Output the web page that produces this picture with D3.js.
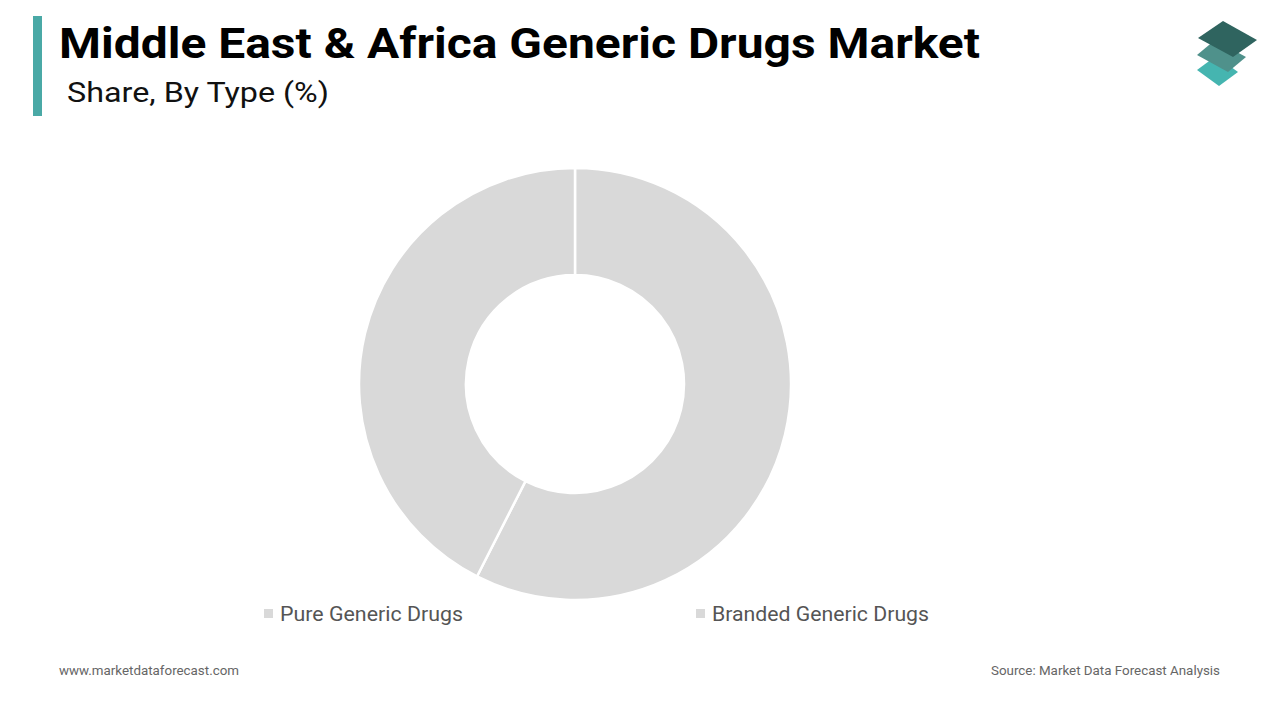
<!DOCTYPE html>
<html><head><meta charset="utf-8">
<script src="https://cdn.jsdelivr.net/npm/d3@7"></script>
<style>body{margin:0;background:#fff;} svg{display:block;font-family:Roboto, "Noto Sans", sans-serif;}</style>
</head><body>
<svg id="chart" width="1280" height="720"></svg>
<script>
const categories = ["Pure Generic Drugs", "Branded Generic Drugs"];
const values = [57.5, 42.5];
const sliceColors = ["#d9d9d9", "#d9d9d9"];
const titleText = "Middle East & Africa Generic Drugs Market";
const subtitleText = "Share, By Type (%)";
const footerLeft = "www.marketdataforecast.com";
const footerRight = "Source: Market Data Forecast Analysis";

const svg = d3.select("#chart");
svg.append("rect").attr("width",1280).attr("height",720).attr("fill","#fff");

// accent bar
svg.append("rect").attr("x",33).attr("y",16).attr("width",9).attr("height",100).attr("fill","#4aa9a6");
svg.append("text").attr("x",59).attr("y",58).attr("font-size",43).attr("font-weight",700).attr("fill","#000")
  .attr("textLength",921).attr("lengthAdjust","spacingAndGlyphs").text(titleText);
svg.append("text").attr("x",67).attr("y",102).attr("font-size",28.5).attr("fill","#111")
  .attr("textLength",262).attr("lengthAdjust","spacingAndGlyphs").text(subtitleText);

// logo
const logo = svg.append("g").attr("stroke-linejoin","round");
logo.append("polygon").attr("points","1216,56 1238,72 1219,86 1197,70").attr("fill","#45b5b0");
logo.append("polygon").attr("points","1215,40 1246,57 1228,72 1197,55").attr("fill","#4f918b");
logo.append("polygon").attr("points","1223,21 1257,40 1233,57 1198,38").attr("fill","#2f645f");

// donut
const cx = 575, cy = 384, outerR = 216, innerR = 109;
const pie = d3.pie().sort(null).value(d => d);
const arc = d3.arc().innerRadius(innerR).outerRadius(outerR);
const g = svg.append("g").attr("transform", `translate(${cx},${cy})`);
g.selectAll("path").data(pie(values)).join("path")
  .attr("d", arc).attr("fill", (d,i) => sliceColors[i])
  .attr("stroke","#fff").attr("stroke-width",2.5);

// legend
const legendX = [264, 696];
const legendW = [183, 217];
const lg = svg.append("g");
categories.forEach((c,i) => {
  lg.append("rect").attr("x",legendX[i]).attr("y",609).attr("width",9).attr("height",9).attr("fill",sliceColors[i]);
  lg.append("text").attr("x",legendX[i]+16).attr("y",621).attr("font-size",21).attr("fill","#555")
    .attr("textLength",legendW[i]).attr("lengthAdjust","spacingAndGlyphs").text(c);
});

// footer
svg.append("text").attr("x",59).attr("y",675).attr("font-size",13).attr("fill","#666")
  .attr("textLength",180).attr("lengthAdjust","spacingAndGlyphs").text(footerLeft);
svg.append("text").attr("x",991).attr("y",675).attr("font-size",13).attr("fill","#666")
  .attr("textLength",229).attr("lengthAdjust","spacingAndGlyphs").text(footerRight);
</script>
</body></html>
